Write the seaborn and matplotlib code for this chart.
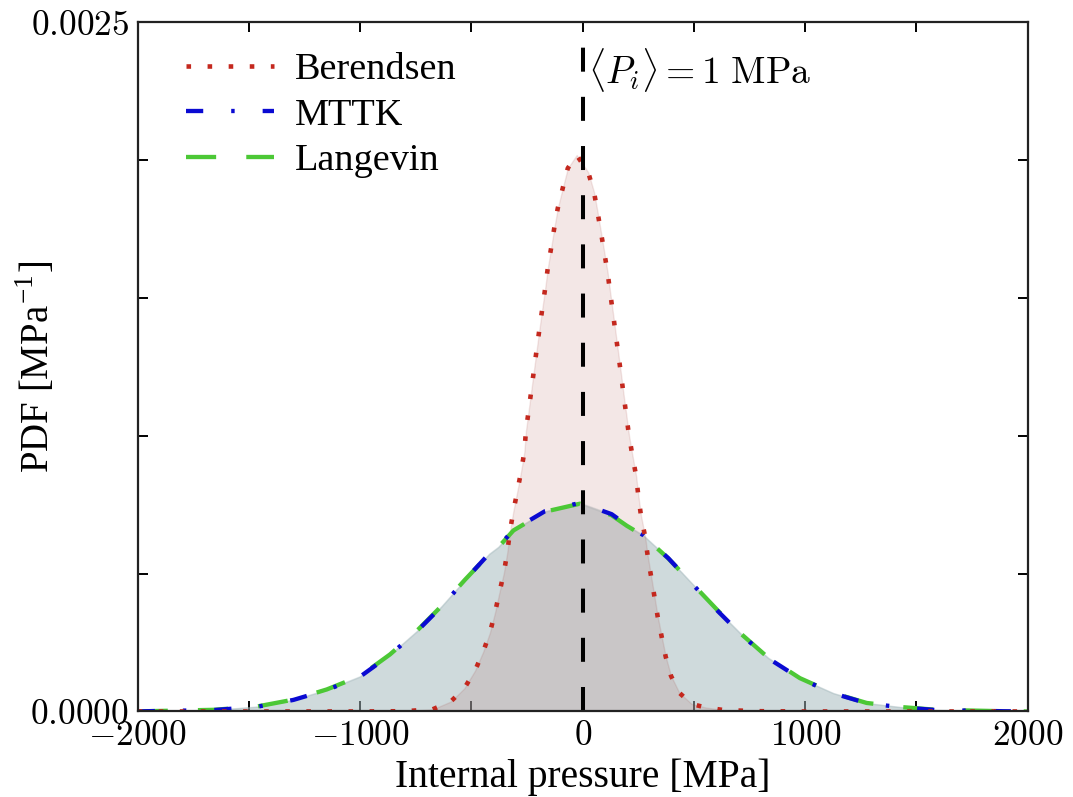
"""   Pressure distributions for three barostats, shown as filled PDF curves   """
import matplotlib
matplotlib.use('Agg')
import matplotlib.pyplot as plt
import numpy as np
import seaborn as sns
from matplotlib.ticker import FixedLocator, FixedFormatter

# ~~~~~~~  Data  ~~~~~~~ #
# Berendsen: narrow peak (PDF values in units of 1e-3 MPa^-1)
ber_x = [-2000, -1000, -800, -674, -593, -532, -484, -447, -417, -394, -375, -354,
         -339, -327, -312, -294, -277, -262, -255, -243, -231, -219, -207, -195,
         -182, -169, -157, -142, -128, -112, -90, -67, -27, 25, 51, 67, 82, 97,
         112, 124, 136, 148, 160, 172, 184, 196, 208, 223, 240, 250, 262, 280,
         292, 307, 322, 337, 355, 373, 397, 434, 490, 550, 635, 800, 1000, 2000]
ber_y = [0, 0, 0.001, 0.008, 0.036, 0.084, 0.148, 0.217, 0.286, 0.359, 0.429, 0.504,
         0.577, 0.652, 0.725, 0.798, 0.870, 0.943, 1.018, 1.091, 1.164, 1.239, 1.312, 1.384,
         1.459, 1.533, 1.608, 1.681, 1.753, 1.826, 1.898, 1.971, 2.019, 1.956, 1.884, 1.811,
         1.739, 1.666, 1.592, 1.517, 1.445, 1.372, 1.298, 1.225, 1.148, 1.076, 1.002, 0.931,
         0.855, 0.783, 0.710, 0.637, 0.565, 0.492, 0.419, 0.344, 0.271, 0.199, 0.129, 0.068,
         0.027, 0.015, 0.005, 0.001, 0, 0]

# MTTK and Langevin: broad, almost identical distributions
wide_x = [-2000, -1959, -1660, -1464, -1300, -1150, -1001, -866, -746, -634, -529,
          -420, -379, -311, -169, -12, 130, 198, 272, 385, 497, 610, 714, 834, 976,
          1126, 1276, 1433, 1591, 1889, 2000]
mttk_y = [0, 0.001, 0.005, 0.017, 0.042, 0.078, 0.126, 0.205, 0.290, 0.381, 0.477,
          0.573, 0.598, 0.659, 0.727, 0.757, 0.716, 0.677, 0.640, 0.556, 0.459, 0.362,
          0.278, 0.193, 0.120, 0.066, 0.030, 0.015, 0.005, 0.001, 0]
lang_y = [0, 0.001, 0.006, 0.018, 0.043, 0.080, 0.128, 0.207, 0.292, 0.383, 0.478,
          0.571, 0.596, 0.657, 0.725, 0.754, 0.712, 0.674, 0.638, 0.555, 0.460, 0.364,
          0.280, 0.195, 0.121, 0.067, 0.031, 0.016, 0.006, 0.001, 0]

mean_p = 1  # MPa
x_ticks = [-2000, -1500, -1000, -500, 0, 500, 1000, 1500, 2000]
x_labels = [r'$-2000$', '', r'$-1000$', '', r'$0$', '', r'$1000$', '', r'$2000$']
y_ticks = [0, 0.0005, 0.001, 0.0015, 0.002, 0.0025]
y_labels = [r'$0.0000$', '', '', '', '', r'$0.0025$']

# ~~~~~~~  Style  ~~~~~~~ #
sns.set_style('ticks')
plt.rcParams['font.family'] = ['Liberation Serif', 'DejaVu Serif']
plt.rcParams['mathtext.fontset'] = 'cm'
plt.rcParams['text.color'] = 'black'
plt.rcParams['axes.labelcolor'] = 'black'

fig = plt.figure(figsize=(10.73, 7.97), dpi=100)
ax = fig.add_axes([0.1283, 0.1073, 0.8295, 0.8645])

red, blue, green = '#c4281e', '#0a0ad2', '#4cc836'

# shaded areas under the curves
wide_fill = '#a3b8bc'
ax.fill_between(wide_x, np.array(mttk_y) * 1e-3, color=wide_fill, alpha=0.3, lw=1)
ax.fill_between(wide_x, np.array(lang_y) * 1e-3, color=wide_fill, alpha=0.3, lw=1)
ax.fill_between(ber_x, np.array(ber_y) * 1e-3, color='#a03a34', alpha=0.12, lw=1)

# the curves themselves
sns.lineplot(x=wide_x, y=np.array(lang_y) * 1e-3, ax=ax, color=green, lw=3.1,
             linestyle=(0, (7, 7)), label='Langevin', sort=False)
sns.lineplot(x=wide_x, y=np.array(mttk_y) * 1e-3, ax=ax, color=blue, lw=3.1,
             linestyle=(0, (4, 6.5, 0.8, 6.5)), label='MTTK', sort=False)
sns.lineplot(x=ber_x, y=np.array(ber_y) * 1e-3, ax=ax, color=red, lw=3.3,
             linestyle=(0, (1, 3.6)), label='Berendsen', sort=False)

# mean pressure marker
ax.axvline(mean_p, color='k', lw=2.9, linestyle=(0, (5.96, 6.25)))
ax.text(24, 0.002328, r'$\langle P_i\rangle = 1\ \mathrm{MPa}$', fontsize=27,
        ha='left', va='center')

ax.set_xlim(-2000, 2000)
ax.set_ylim(0, 0.0025)
ax.xaxis.set_major_locator(FixedLocator(x_ticks))
ax.xaxis.set_major_formatter(FixedFormatter(x_labels))
ax.yaxis.set_major_locator(FixedLocator(y_ticks))
ax.yaxis.set_major_formatter(FixedFormatter(y_labels))
ax.tick_params(direction='in', length=7, width=1.4, top=True, right=True,
               labelsize=25.5, pad=6, colors='black')
for sp in ax.spines.values():
    sp.set_linewidth(1.6)
    sp.set_color('#222222')

ax.set_xlabel('Internal pressure [MPa]', fontsize=28.5)
ax.set_ylabel(r'PDF [MPa$^{\mathregular{-1}}$]', fontsize=28)
ax.xaxis.set_label_coords(0.5, -0.068)
ax.yaxis.set_label_coords(-0.09, 0.5)

# legend in Berendsen, MTTK, Langevin order
handles, labels = ax.get_legend_handles_labels()
order = [labels.index(n) for n in ['Berendsen', 'MTTK', 'Langevin']]
ax.legend([handles[i] for i in order], [labels[i] for i in order], loc='upper left',
          frameon=False, fontsize=27.5, handlelength=2.3, handletextpad=0.55,
          labelspacing=0.28, borderaxespad=0.3, bbox_to_anchor=(0.024, 0.995))

fig.savefig('out.png', dpi=100)
